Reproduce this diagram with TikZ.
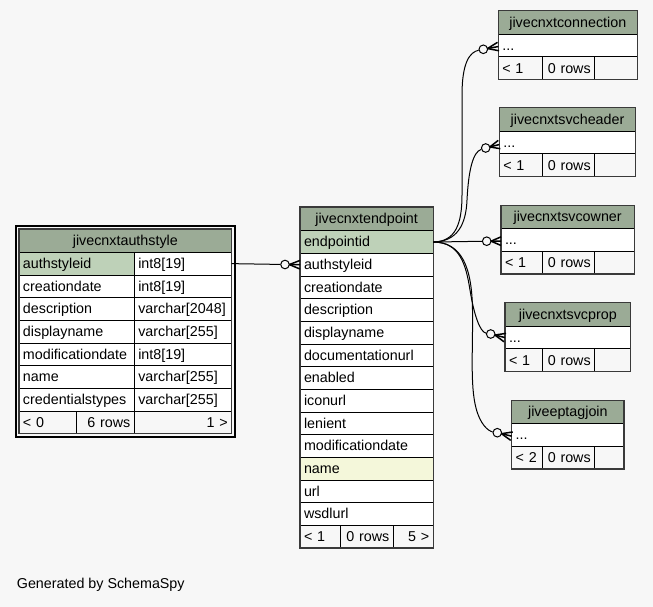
\documentclass[tikz,border=0pt]{standalone}
\usepackage{fontspec}
\setmainfont{Liberation Sans}
\usetikzlibrary{calc}
\definecolor{bg}{HTML}{F7F7F7}
\definecolor{hdr}{HTML}{9BAB96}
\definecolor{keyc}{HTML}{BED1B8}
\definecolor{idx}{HTML}{F4F7DA}
\definecolor{brd}{HTML}{3A3A3A}
\newlength\cellw
\tikzset{
  cell/.style={draw=black, line width=0.9pt, inner sep=0pt, outer sep=0pt, anchor=north west,
    font=\fontsize{14.3}{16}\selectfont, text height=11pt, text depth=1.4pt},
  tblborder/.style={draw=brd, line width=1.5pt},
  edge/.style={draw=black, line width=1pt},
  crowline/.style={draw=black, line width=1.5pt},
  odot/.style={circle, draw=black, fill=bg, line width=1pt, minimum size=8.6pt, inner sep=0pt},
}
\newcommand{\mkcell}[8]{%
  \setlength\cellw{#4pt}\addtolength\cellw{-8pt}%
  \node[cell, fill=#6, minimum width=#4pt, minimum height=#5pt, text width=\cellw, align=#7] (#1) at (#2,#3) {#8};}
\newcommand{\crowto}[2]{%
  \draw[crowline] (#1) -- (#2);
  \draw[crowline] ($(#1)!4.3pt!(#2)$) -- ($(#2)!4.3pt!90:(#1)$);
  \draw[crowline] ($(#1)!4.3pt!(#2)$) -- ($(#2)!4.3pt!-90:(#1)$);}
\begin{document}
\begin{tikzpicture}[x=1pt, y=-1pt]
\fill[bg] (0,0) rectangle (653,607);
\useasboundingbox (0,0) rectangle (653,607);

% ---------- jivecnxtauthstyle ----------
\mkcell{as-h}{19}{229}{212.7}{23.3}{hdr}{center}{jivecnxtauthstyle}
\mkcell{as-r1a}{19}{252.3}{115.3}{22.67}{keyc}{left}{authstyleid}
\mkcell{as-r1b}{134.3}{252.3}{97.4}{22.67}{white}{left}{int8[19]}
\mkcell{as-r2a}{19}{274.97}{115.3}{22.67}{white}{left}{creationdate}
\mkcell{as-r2b}{134.3}{274.97}{97.4}{22.67}{white}{left}{int8[19]}
\mkcell{as-r3a}{19}{297.63}{115.3}{22.67}{white}{left}{description}
\mkcell{as-r3b}{134.3}{297.63}{97.4}{22.67}{white}{left}{varchar[2048]}
\mkcell{as-r4a}{19}{320.3}{115.3}{22.67}{white}{left}{displayname}
\mkcell{as-r4b}{134.3}{320.3}{97.4}{22.67}{white}{left}{varchar[255]}
\mkcell{as-r5a}{19}{342.97}{115.3}{22.67}{white}{left}{modificationdate}
\mkcell{as-r5b}{134.3}{342.97}{97.4}{22.67}{white}{left}{int8[19]}
\mkcell{as-r6a}{19}{365.63}{115.3}{22.67}{white}{left}{name}
\mkcell{as-r6b}{134.3}{365.63}{97.4}{22.67}{white}{left}{varchar[255]}
\mkcell{as-r7a}{19}{388.3}{115.3}{22.67}{white}{left}{credentialstypes}
\mkcell{as-r7b}{134.3}{388.3}{97.4}{22.67}{white}{left}{varchar[255]}
\mkcell{as-f1}{19}{410.97}{57.7}{22.67}{bg}{left}{< 0}
\mkcell{as-f2}{76.7}{410.97}{57.6}{22.67}{bg}{right}{6 rows}
\mkcell{as-f3}{134.3}{410.97}{97.4}{22.67}{bg}{right}{1 >}
\draw[tblborder] (as-h.north west) rectangle (as-f3.south east);
\draw[line width=2.3pt] (16.2,225.9) rectangle (235.3,437.3);

% ---------- jivecnxtendpoint ----------
\mkcell{ep-h}{300}{207}{133.3}{23.7}{hdr}{center}{jivecnxtendpoint}
\mkcell{ep-r1}{300}{230.7}{133.3}{22.67}{keyc}{left}{endpointid}
\mkcell{ep-r2}{300}{253.37}{133.3}{22.67}{white}{left}{authstyleid}
\mkcell{ep-r3}{300}{276.03}{133.3}{22.67}{white}{left}{creationdate}
\mkcell{ep-r4}{300}{298.7}{133.3}{22.67}{white}{left}{description}
\mkcell{ep-r5}{300}{321.37}{133.3}{22.67}{white}{left}{displayname}
\mkcell{ep-r6}{300}{344.03}{133.3}{22.67}{white}{left}{documentationurl}
\mkcell{ep-r7}{300}{366.7}{133.3}{22.67}{white}{left}{enabled}
\mkcell{ep-r8}{300}{389.37}{133.3}{22.67}{white}{left}{iconurl}
\mkcell{ep-r9}{300}{412.03}{133.3}{22.67}{white}{left}{lenient}
\mkcell{ep-r10}{300}{434.7}{133.3}{22.67}{white}{left}{modificationdate}
\mkcell{ep-r11}{300}{457.37}{133.3}{22.67}{idx}{left}{name}
\mkcell{ep-r12}{300}{480.03}{133.3}{22.67}{white}{left}{url}
\mkcell{ep-r13}{300}{502.7}{133.3}{22.67}{white}{left}{wsdlurl}
\mkcell{ep-f1}{300}{525.37}{40.7}{22.67}{bg}{left}{< 1}
\mkcell{ep-f2}{340.7}{525.37}{52.6}{22.67}{bg}{right}{0 rows}
\mkcell{ep-f3}{393.3}{525.37}{40}{22.67}{bg}{right}{5 >}
\draw[tblborder] (ep-h.north west) rectangle (ep-f3.south east);

% ---------- jivecnxtconnection ----------
\mkcell{cn-h}{498.3}{10.7}{139}{23.5}{hdr}{center}{jivecnxtconnection}
\mkcell{cn-r}{498.3}{34.2}{139}{22.7}{white}{left}{...}
\mkcell{cn-f1}{498.3}{56.9}{44.4}{22.7}{bg}{left}{< 1}
\mkcell{cn-f2}{542.7}{56.9}{52}{22.7}{bg}{right}{0 rows}
\mkcell{cn-f3}{594.7}{56.9}{42.6}{22.7}{bg}{right}{}
\draw[tblborder] (cn-h.north west) rectangle (cn-f3.south east);

% ---------- jivecnxtsvcheader ----------
\mkcell{sh-h}{499.3}{107.7}{136.4}{23.5}{hdr}{center}{jivecnxtsvcheader}
\mkcell{sh-r}{499.3}{131.2}{136.4}{22.7}{white}{left}{...}
\mkcell{sh-f1}{499.3}{153.9}{43.4}{22.7}{bg}{left}{< 1}
\mkcell{sh-f2}{542.7}{153.9}{52}{22.7}{bg}{right}{0 rows}
\mkcell{sh-f3}{594.7}{153.9}{41}{22.7}{bg}{right}{}
\draw[tblborder] (sh-h.north west) rectangle (sh-f3.south east);

% ---------- jivecnxtsvcowner ----------
\mkcell{so-h}{501}{205.3}{133.3}{23.5}{hdr}{center}{jivecnxtsvcowner}
\mkcell{so-r}{501}{228.8}{133.3}{22.7}{white}{left}{...}
\mkcell{so-f1}{501}{251.5}{41.7}{22.7}{bg}{left}{< 1}
\mkcell{so-f2}{542.7}{251.5}{52}{22.7}{bg}{right}{0 rows}
\mkcell{so-f3}{594.7}{251.5}{39.6}{22.7}{bg}{right}{}
\draw[tblborder] (so-h.north west) rectangle (so-f3.south east);

% ---------- jivecnxtsvcprop ----------
\mkcell{sp-h}{505}{302.7}{125.7}{23.5}{hdr}{center}{jivecnxtsvcprop}
\mkcell{sp-r}{505}{326.2}{125.7}{22.7}{white}{left}{...}
\mkcell{sp-f1}{505}{348.9}{37.7}{22.7}{bg}{left}{< 1}
\mkcell{sp-f2}{542.7}{348.9}{52}{22.7}{bg}{right}{0 rows}
\mkcell{sp-f3}{594.7}{348.9}{36}{22.7}{bg}{right}{}
\draw[tblborder] (sp-h.north west) rectangle (sp-f3.south east);

% ---------- jiveeptagjoin ----------
\mkcell{tj-h}{511.7}{400.3}{112.3}{23.5}{hdr}{center}{jiveeptagjoin}
\mkcell{tj-r}{511.7}{423.8}{112.3}{22.7}{white}{left}{...}
\mkcell{tj-f1}{511.7}{446.5}{31}{22.7}{bg}{left}{< 2}
\mkcell{tj-f2}{542.7}{446.5}{52}{22.7}{bg}{right}{0 rows}
\mkcell{tj-f3}{594.7}{446.5}{29.3}{22.7}{bg}{right}{}
\draw[tblborder] (tj-h.north west) rectangle (tj-f3.south east);

% ---------- connectors ----------
\node[odot] (o0) at (285,264.5) {};
\draw[edge] (as-r1b.east) -- (o0);
\coordinate (e0) at (ep-r2.west);
\crowto{o0}{e0}

\node[odot] (o1) at (483.3,49.3) {};
\draw[edge] (ep-r1.east) .. controls (455,241.5) and (462,225) .. (462,195) -- (462,95) .. controls (462,62) and (470,52) .. (o1);
\coordinate (e1) at ($(cn-r.west)+(0,1)$);
\crowto{o1}{e1}

\node[odot] (o2) at (485.7,148) {};
\draw[edge] (ep-r1.east) .. controls (457,241.5) and (466,225) .. (467,200) .. controls (468.5,170) and (473,152) .. (o2);
\coordinate (e2) at ($(sh-r.west)+(0,2)$);
\crowto{o2}{e2}

\node[odot] (o3) at (486.7,241.2) {};
\draw[edge] (ep-r1.east) -- (o3);
\coordinate (e3) at ($(so-r.west)+(0,1)$);
\crowto{o3}{e3}

\node[odot] (o4) at (490.7,334) {};
\draw[edge] (ep-r1.east) .. controls (460,242) and (466,265) .. (470,290) .. controls (474,315) and (480,332) .. (o4);
\coordinate (e4) at (sp-r.west);
\crowto{o4}{e4}

\node[odot] (o5) at (497.3,432.7) {};
\draw[edge] (ep-r1.east) .. controls (462,242) and (472,268) .. (472.5,310) .. controls (473,350) and (470,385) .. (476,408) .. controls (480,424) and (488,431) .. (o5);
\coordinate (e5) at ($(tj-r.west)+(0,1)$);
\crowto{o5}{e5}

\node[anchor=base west, inner sep=0pt, font=\fontsize{14.3}{16}\selectfont] (gen) at (16.7,588.7) {Generated by SchemaSpy};
\end{tikzpicture}
\end{document}
